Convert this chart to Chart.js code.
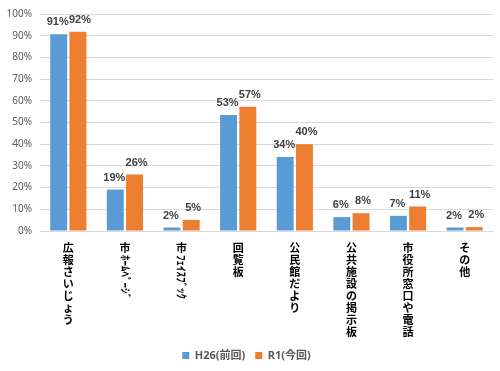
<!DOCTYPE html>
<html>
<head>
<meta charset="utf-8">
<script src="https://cdn.jsdelivr.net/npm/chart.js@4"></script>
<style>
  html, body { margin: 0; padding: 0; background: #fff; }
  #wrap { width: 500px; height: 371px; }
</style>
</head>
<body>
<div id="wrap"><canvas id="chart"></canvas></div>
<script>
// categories (vertical labels in the original)
const categories = ["広報さいじょう", "市ﾎｰﾑﾍﾟｰｼﾞ", "市ﾌｪｲｽﾌﾞｯｸ", "回覧板", "公民館だより", "公共施設の掲示板", "市役所窓口や電話", "その他"];
// percentages
const h26 = [90.7, 19.1, 1.6, 53.4, 34.1, 6.4, 7.0, 1.6];
const r1 = [91.8, 26.0, 5.1, 57.3, 40.0, 8.2, 11.3, 1.8];
const seriesNames = ["H26(前回)", "R1(今回)"];
const yTicks = [0, 10, 20, 30, 40, 50, 60, 70, 80, 90, 100];

Chart.defaults.font.family = "'Noto Sans', 'Noto Sans CJK JP', sans-serif";

const isHalfKana = c => c >= "\uFF61" && c <= "\uFF9F";

// draws the category names top to bottom, half-width kana turned sideways
const verticalLabels = {
    id: "verticalLabels",
    afterDraw(chart) {
        const ctx = chart.ctx;
        const xs = chart.scales.x;
        const top = chart.chartArea.bottom + 11;
        const step = 12;
        ctx.save();
        ctx.fillStyle = "#000";
        ctx.font = "bold 11px 'Noto Sans CJK JP'";
        categories.forEach((label, i) => {
            const x = xs.getPixelForTick(i);
            let y = top;
            const chars = Array.from(label);
            let k = 0;
            while (k < chars.length) {
                if (isHalfKana(chars[k])) {
                    let run = "";
                    while (k < chars.length && isHalfKana(chars[k])) run += chars[k++];
                    ctx.save();
                    ctx.translate(x, y + 1);
                    ctx.rotate(Math.PI / 2);
                    ctx.textAlign = "left";
                    ctx.textBaseline = "middle";
                    ctx.fillText(run, 0, 0);
                    y += ctx.measureText(run).width + 2;
                    ctx.restore();
                } else {
                    ctx.textAlign = "center";
                    ctx.textBaseline = "top";
                    ctx.fillText(chars[k], x, y);
                    y += step;
                    k++;
                }
            }
        });
        ctx.restore();
    }
};

// value labels above each bar
const valueLabels = {
    id: "valueLabels",
    afterDatasetsDraw(chart) {
        const ctx = chart.ctx;
        ctx.save();
        ctx.font = "bold 11px 'Liberation Sans'";
        ctx.fillStyle = "#404040";
        ctx.textAlign = "center";
        ctx.textBaseline = "middle";
        chart.data.datasets.forEach((ds, d) => {
            const shift = d === 0 ? -1 : 2;
            chart.getDatasetMeta(d).data.forEach((bar, i) => {
                ctx.fillText(Math.round(ds.data[i]) + "%", bar.x + shift, bar.y - 12);
            });
        });
        ctx.restore();
    }
};

const ctx = document.getElementById("chart").getContext("2d");

new Chart(ctx, {
    type: "bar",
    data: {
        labels: categories,
        datasets: [{
            label: seriesNames[0],
            data: h26,
            backgroundColor: "#5B9BD5",
            borderWidth: 0,
            barPercentage: 0.88,
            categoryPercentage: 0.68
        }, {
            label: seriesNames[1],
            data: r1,
            backgroundColor: "#ED7D31",
            borderWidth: 0,
            barPercentage: 0.88,
            categoryPercentage: 0.68
        }]
    },
    options: {
        responsive: true,
        maintainAspectRatio: false,
        animation: false,
        layout: { padding: { top: 14, right: 7, left: 0, bottom: 0 } },
        plugins: {
            tooltip: { enabled: false },
            legend: {
                position: "bottom",
                labels: {
                    boxWidth: 7,
                    boxHeight: 7,
                    color: "#595959",
                    font: { size: 11, weight: "bold" },
                    padding: 10
                }
            }
        },
        scales: {
            x: {
                grid: { display: false },
                border: { display: false },
                ticks: { display: false },
                afterFit(scale) { scale.height = 109; }
            },
            y: {
                min: 0,
                max: 100,
                afterBuildTicks(scale) { scale.ticks = yTicks.map(v => ({ value: v })); },
                ticks: {
                    color: "#595959",
                    font: { size: 10 },
                    padding: 8,
                    callback: v => v + "%"
                },
                grid: { color: "#D9D9D9", drawTicks: false },
                border: { display: false },
                afterFit(scale) { scale.width = 40; }
            }
        }
    },
    plugins: [verticalLabels, valueLabels]
});
</script>
</body>
</html>
